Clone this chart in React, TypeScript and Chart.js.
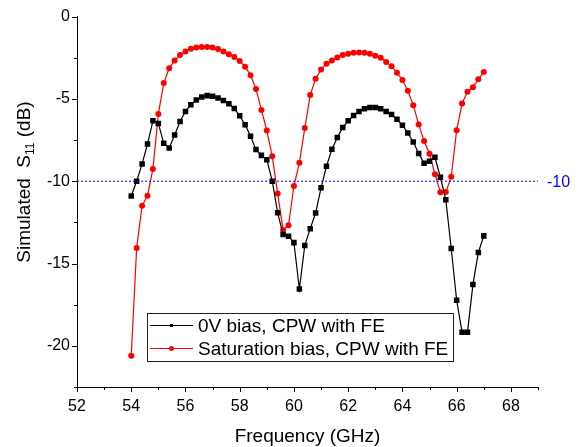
import { useEffect, useRef } from "react";
import { Chart, registerables } from "chart.js";
Chart.register(...registerables);

const frequencyGHz = [
  54.0, 54.2, 54.4, 54.6, 54.8, 55.0, 55.2, 55.4, 55.6, 55.8,
  56.0, 56.2, 56.4, 56.6, 56.8, 57.0, 57.2, 57.4, 57.6, 57.8,
  58.0, 58.2, 58.4, 58.6, 58.8, 59.0, 59.2, 59.4, 59.6, 59.8,
  60.0, 60.2, 60.4, 60.6, 60.8, 61.0, 61.2, 61.4, 61.6, 61.8,
  62.0, 62.2, 62.4, 62.6, 62.8, 63.0, 63.2, 63.4, 63.6, 63.8,
  64.0, 64.2, 64.4, 64.6, 64.8, 65.0, 65.2, 65.4, 65.6, 65.8,
  66.0, 66.2, 66.4, 66.6, 66.8, 67.0,
];

const zeroBiasS11 = [
  -10.9, -10.0, -8.95, -7.74, -6.33, -6.49, -7.70, -7.98, -7.19, -6.37,
  -5.76, -5.36, -5.06, -4.88, -4.80, -4.84, -4.94, -5.10, -5.30, -5.58,
  -6.03, -6.57, -7.27, -8.08, -8.43, -8.69, -10.0, -11.92, -13.24, -13.34,
  -13.73, -16.55, -13.9, -12.88, -11.93, -10.4, -9.09, -8.06, -7.34, -6.73,
  -6.33, -6.01, -5.76, -5.6, -5.52, -5.52, -5.6, -5.76, -5.95, -6.23,
  -6.6, -7.07, -7.62, -8.31, -8.91, -8.78, -8.55, -9.76, -11.12, -14.09,
  -17.23, -19.17, -19.17, -16.28, -14.33, -13.32,
];

const saturationBiasS11 = [
  -20.6, -14.05, -11.49, -10.88, -9.25, -5.92, -4.03, -3.14, -2.66, -2.34,
  -2.12, -1.96, -1.87, -1.85, -1.85, -1.87, -1.97, -2.12, -2.28, -2.46,
  -2.7, -3.04, -3.57, -4.4, -5.67, -6.92, -8.48, -10.75, -12.96, -12.67,
  -10.29, -8.88, -6.77, -4.77, -3.77, -3.22, -2.86, -2.66, -2.48, -2.34,
  -2.26, -2.2, -2.18, -2.2, -2.26, -2.38, -2.5, -2.76, -3.02, -3.41,
  -3.85, -4.5, -5.38, -6.55, -7.56, -8.33, -9.57, -10.67, -10.66, -9.73,
  -6.91, -5.28, -4.57, -4.29, -3.81, -3.37,
];

const seriesNames = ["0V bias, CPW with FE", "Saturation bias, CPW with FE"];
const xTickValues = [52, 54, 56, 58, 60, 62, 64, 66, 68];
const xMinorTickValues = [53, 55, 57, 59, 61, 63, 65, 67, 69];
const yTickValues = [0, -5, -10, -15, -20];
const yMinorTickValues = [-2.5, -7.5, -12.5, -17.5, -22.5];
const xRange = [52, 69];
const yRange = [-22.5, 0];
const thresholdDb = -10;
const thresholdLabel = "-10";
const xTitle = "Frequency (GHz)";
const yTitleMain = "Simulated  S";
const yTitleSub = "11";
const yTitleEnd = " (dB)";

const FONT = '"Liberation Sans", Arial, Helvetica, sans-serif';

const overlayPlugin = {
  id: "overlay",
  afterDraw(chart: any) {
    const ctx: CanvasRenderingContext2D = chart.ctx;
    const xs = chart.scales.x;
    const ys = chart.scales.y;
    const { left, right, bottom } = chart.chartArea;
    ctx.save();
    ctx.strokeStyle = "#000";
    ctx.lineWidth = 1;
    ctx.beginPath();
    xTickValues.forEach((v) => {
      const px = Math.round(xs.getPixelForValue(v)) + 0.5;
      ctx.moveTo(px, bottom);
      ctx.lineTo(px, bottom + 5);
    });
    xMinorTickValues.forEach((v) => {
      const px = Math.round(xs.getPixelForValue(v)) + 0.5;
      ctx.moveTo(px, bottom);
      ctx.lineTo(px, bottom + 3);
    });
    yTickValues.forEach((v) => {
      const py = Math.round(ys.getPixelForValue(v)) + 0.5;
      ctx.moveTo(left, py);
      ctx.lineTo(left - 5, py);
    });
    yMinorTickValues.forEach((v) => {
      const py = Math.round(ys.getPixelForValue(v)) + 0.5;
      ctx.moveTo(left, py);
      ctx.lineTo(left - 3, py);
    });
    ctx.stroke();

    // threshold label
    ctx.fillStyle = "#0000ff";
    ctx.font = `16px ${FONT}`;
    ctx.textAlign = "left";
    ctx.textBaseline = "middle";
    ctx.fillText(thresholdLabel, right + 9, ys.getPixelForValue(thresholdDb) + 1);

    // x title
    ctx.fillStyle = "#000";
    ctx.font = `19px ${FONT}`;
    ctx.textAlign = "center";
    ctx.textBaseline = "middle";
    ctx.fillText(xTitle, (left + right) / 2, 437);

    // y title with subscript
    ctx.save();
    ctx.translate(30, 182);
    ctx.rotate(-Math.PI / 2);
    ctx.textAlign = "left";
    ctx.textBaseline = "alphabetic";
    ctx.font = `19px ${FONT}`;
    const w1 = ctx.measureText(yTitleMain).width;
    const w3 = ctx.measureText(yTitleEnd).width;
    ctx.font = `12px ${FONT}`;
    const w2 = ctx.measureText(yTitleSub).width;
    let x0 = -(w1 + w2 + w3) / 2;
    ctx.font = `19px ${FONT}`;
    ctx.fillText(yTitleMain, x0, 0);
    x0 += w1;
    ctx.font = `12px ${FONT}`;
    ctx.fillText(yTitleSub, x0, 4);
    x0 += w2;
    ctx.font = `19px ${FONT}`;
    ctx.fillText(yTitleEnd, x0, 0);
    ctx.restore();

    // legend
    const lx = 147.5, ly = 313.5, lw = 306, lh = 48;
    ctx.fillStyle = "#fff";
    ctx.fillRect(lx, ly, lw, lh);
    ctx.strokeStyle = "#222";
    ctx.strokeRect(lx, ly, lw, lh);
    const rows = [
      { y: 325.5, color: "#000", style: "rect" },
      { y: 348.5, color: "#ff0000", style: "circle" },
    ];
    rows.forEach((r, i) => {
      ctx.strokeStyle = r.color;
      ctx.lineWidth = 1.2;
      ctx.beginPath();
      ctx.moveTo(150, r.y);
      ctx.lineTo(193, r.y);
      ctx.stroke();
      ctx.fillStyle = r.color;
      if (r.style === "rect") {
        ctx.fillRect(170, r.y - 1.5, 3, 3);
      } else {
        ctx.beginPath();
        ctx.arc(171.5, r.y, 2.5, 0, Math.PI * 2);
        ctx.fill();
      }
      ctx.fillStyle = "#000";
      ctx.font = `19px ${FONT}`;
      ctx.textAlign = "left";
      ctx.textBaseline = "middle";
      ctx.fillText(seriesNames[i], 198, r.y + 1);
    });
    ctx.restore();
  },
};

export default function App() {
  const canvasRef = useRef<HTMLCanvasElement | null>(null);

  useEffect(() => {
    const canvas = canvasRef.current;
    if (!canvas) return;
    const chart = new Chart(canvas, {
      type: "line",
      data: {
        datasets: [
          {
            label: "threshold",
            data: [
              { x: xRange[0], y: thresholdDb },
              { x: xRange[1], y: thresholdDb },
            ],
            borderColor: "#0000ff",
            borderWidth: 1,
            borderDash: [2, 2],
            pointRadius: 0,
            fill: false,
          },
          {
            label: seriesNames[0],
            data: frequencyGHz.map((f, i) => ({ x: f, y: zeroBiasS11[i] })),
            borderColor: "#000",
            backgroundColor: "#000",
            borderWidth: 1.2,
            pointStyle: "rect",
            pointRadius: 3.9,
            pointBorderWidth: 0,
            fill: false,
          },
          {
            label: seriesNames[1],
            data: frequencyGHz.map((f, i) => ({ x: f, y: saturationBiasS11[i] })),
            borderColor: "#ff0000",
            backgroundColor: "#ff0000",
            borderWidth: 1.2,
            pointStyle: "circle",
            pointRadius: 3,
            pointBorderWidth: 0,
            fill: false,
          },
        ],
      },
      options: {
        animation: false,
        responsive: false,
        layout: { padding: { left: 0, top: 15, right: 48, bottom: 0 } },
        plugins: { legend: { display: false }, tooltip: { enabled: false } },
        scales: {
          x: {
            type: "linear",
            min: xRange[0],
            max: xRange[1],
            grid: { display: false, drawTicks: false },
            border: { display: true, color: "#000", width: 1 },
            ticks: {
              color: "#000",
              font: { size: 16, family: FONT },
              padding: 10,
              maxRotation: 0,
              autoSkip: false,
            },
            afterBuildTicks: (s: any) => {
              s.ticks = xTickValues.map((v) => ({ value: v }));
            },
            afterFit: (s: any) => {
              s.height = 60;
            },
          },
          y: {
            type: "linear",
            min: yRange[0],
            max: yRange[1],
            grid: { display: false, drawTicks: false },
            border: { display: true, color: "#000", width: 1 },
            ticks: {
              color: "#000",
              font: { size: 16, family: FONT },
              padding: 7,
              autoSkip: false,
            },
            afterBuildTicks: (s: any) => {
              s.ticks = yTickValues.map((v) => ({ value: v }));
            },
            afterFit: (s: any) => {
              s.width = 77;
            },
          },
        },
      },
      plugins: [overlayPlugin],
    } as any);
    return () => chart.destroy();
  }, []);

  return (
    <div style={{ position: "fixed", left: 0, top: 0, width: 586, height: 447, background: "#fff" }}>
      <canvas ref={canvasRef} width={586} height={447} style={{ display: "block" }} />
    </div>
  );
}
